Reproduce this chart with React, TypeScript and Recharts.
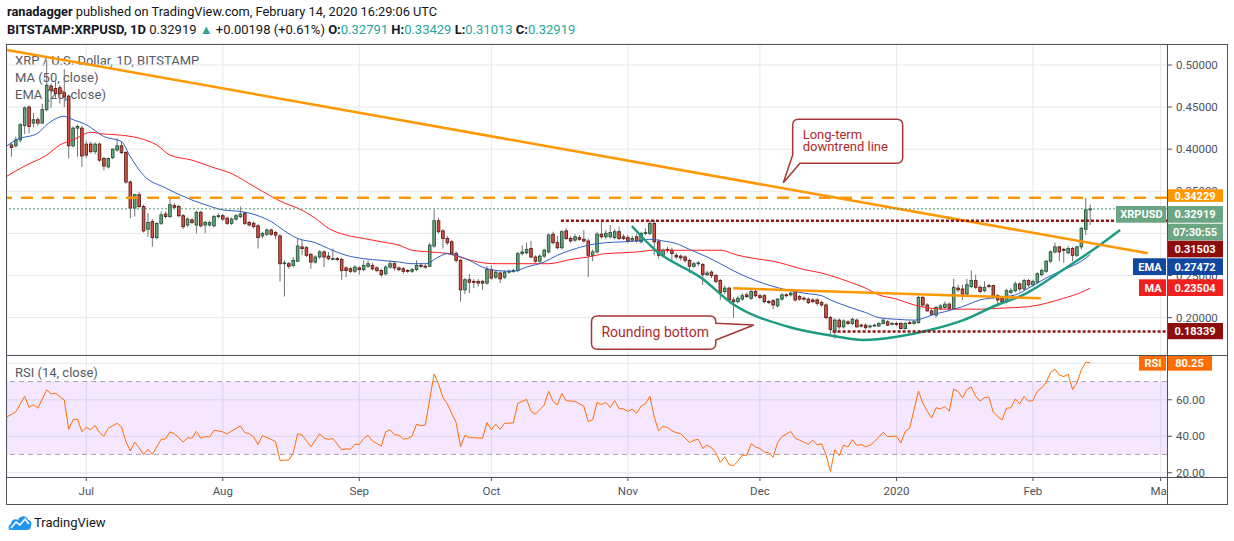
import React from 'react';
import {
  ComposedChart,
  Bar,
  Line,
  XAxis,
  YAxis,
  CartesianGrid,
  ReferenceLine,
  ReferenceArea,
  ReferenceDot,
} from 'recharts';

// day 0 = 14 Jun 2019, one candle per day, [open, high, low, close]
const ohlcJun = [
  [0.405, 0.408, 0.391, 0.402], [0.404, 0.415, 0.402, 0.411], [0.411, 0.431, 0.408, 0.429],
  [0.428, 0.451, 0.418, 0.449], [0.450, 0.452, 0.419, 0.427], [0.431, 0.443, 0.426, 0.435],
  [0.435, 0.438, 0.428, 0.431], [0.431, 0.454, 0.430, 0.447], [0.447, 0.506, 0.445, 0.476],
  [0.475, 0.478, 0.449, 0.470], [0.472, 0.480, 0.460, 0.466], [0.473, 0.476, 0.454, 0.466],
  [0.467, 0.495, 0.450, 0.462], [0.463, 0.465, 0.389, 0.404], [0.404, 0.427, 0.402, 0.425],
  [0.425, 0.429, 0.391, 0.427], [0.425, 0.428, 0.379, 0.392],
];
const ohlcJul = [
  [0.406, 0.410, 0.390, 0.393], [0.406, 0.409, 0.395, 0.397], [0.397, 0.408, 0.394, 0.406],
  [0.406, 0.408, 0.385, 0.387], [0.389, 0.391, 0.375, 0.380], [0.379, 0.390, 0.377, 0.389],
  [0.390, 0.401, 0.388, 0.400], [0.399, 0.413, 0.397, 0.404], [0.404, 0.409, 0.394, 0.396],
  [0.396, 0.398, 0.359, 0.361], [0.361, 0.363, 0.318, 0.330], [0.330, 0.347, 0.320, 0.346],
  [0.346, 0.349, 0.330, 0.332], [0.332, 0.334, 0.301, 0.303], [0.305, 0.324, 0.296, 0.313],
  [0.314, 0.317, 0.284, 0.295], [0.295, 0.313, 0.293, 0.312], [0.312, 0.326, 0.310, 0.322],
  [0.323, 0.326, 0.318, 0.320], [0.320, 0.344, 0.318, 0.334], [0.333, 0.336, 0.329, 0.331],
  [0.332, 0.334, 0.319, 0.321], [0.321, 0.323, 0.305, 0.308], [0.310, 0.319, 0.308, 0.317],
  [0.316, 0.318, 0.311, 0.313], [0.310, 0.327, 0.300, 0.325], [0.325, 0.327, 0.307, 0.309],
  [0.310, 0.315, 0.300, 0.313], [0.310, 0.315, 0.308, 0.313], [0.309, 0.322, 0.307, 0.320],
  [0.320, 0.324, 0.318, 0.321],
];
const ohlcAug = [
  [0.321, 0.323, 0.315, 0.317], [0.318, 0.320, 0.310, 0.312], [0.312, 0.319, 0.310, 0.317],
  [0.317, 0.323, 0.315, 0.321], [0.320, 0.332, 0.318, 0.323], [0.324, 0.326, 0.310, 0.312],
  [0.313, 0.315, 0.308, 0.310], [0.312, 0.314, 0.306, 0.308], [0.309, 0.311, 0.282, 0.295],
  [0.297, 0.302, 0.294, 0.300], [0.299, 0.306, 0.297, 0.304], [0.304, 0.306, 0.297, 0.299],
  [0.301, 0.303, 0.293, 0.298], [0.297, 0.299, 0.243, 0.264], [0.264, 0.268, 0.225, 0.265],
  [0.264, 0.266, 0.258, 0.261], [0.262, 0.272, 0.260, 0.268], [0.267, 0.294, 0.266, 0.285],
  [0.284, 0.292, 0.274, 0.282], [0.283, 0.285, 0.272, 0.274], [0.275, 0.277, 0.258, 0.266],
  [0.266, 0.274, 0.264, 0.272], [0.272, 0.280, 0.270, 0.278], [0.278, 0.280, 0.260, 0.272],
  [0.273, 0.278, 0.268, 0.270], [0.270, 0.282, 0.268, 0.270], [0.270, 0.272, 0.267, 0.269],
  [0.269, 0.271, 0.245, 0.256], [0.259, 0.261, 0.248, 0.256], [0.258, 0.260, 0.253, 0.255],
  [0.255, 0.262, 0.253, 0.260],
];
const ohlcSep = [
  [0.259, 0.261, 0.251, 0.257], [0.257, 0.268, 0.255, 0.262], [0.261, 0.268, 0.259, 0.264],
  [0.262, 0.265, 0.256, 0.258], [0.259, 0.261, 0.254, 0.256], [0.256, 0.258, 0.248, 0.251],
  [0.252, 0.262, 0.250, 0.260], [0.260, 0.268, 0.258, 0.264], [0.264, 0.266, 0.256, 0.259],
  [0.259, 0.261, 0.255, 0.257], [0.258, 0.260, 0.252, 0.255], [0.256, 0.258, 0.253, 0.255],
  [0.255, 0.259, 0.253, 0.257], [0.257, 0.268, 0.255, 0.262], [0.262, 0.265, 0.259, 0.261],
  [0.261, 0.264, 0.258, 0.260], [0.261, 0.289, 0.260, 0.286], [0.285, 0.328, 0.283, 0.315],
  [0.315, 0.318, 0.300, 0.302], [0.303, 0.305, 0.282, 0.294], [0.294, 0.297, 0.286, 0.289],
  [0.290, 0.292, 0.274, 0.276], [0.276, 0.279, 0.265, 0.268], [0.268, 0.270, 0.219, 0.233],
  [0.233, 0.247, 0.228, 0.245], [0.245, 0.252, 0.229, 0.242], [0.243, 0.246, 0.235, 0.242],
  [0.243, 0.246, 0.237, 0.241], [0.243, 0.245, 0.233, 0.241], [0.241, 0.261, 0.239, 0.257],
];
const ohlcOct = [
  [0.257, 0.262, 0.245, 0.247], [0.248, 0.256, 0.246, 0.254], [0.253, 0.255, 0.241, 0.246],
  [0.248, 0.256, 0.246, 0.254], [0.254, 0.257, 0.252, 0.255], [0.255, 0.258, 0.253, 0.256],
  [0.256, 0.278, 0.254, 0.276], [0.276, 0.286, 0.274, 0.278], [0.277, 0.289, 0.275, 0.281],
  [0.282, 0.291, 0.270, 0.272], [0.272, 0.274, 0.265, 0.267], [0.267, 0.275, 0.265, 0.273],
  [0.273, 0.282, 0.271, 0.280], [0.278, 0.300, 0.276, 0.298], [0.299, 0.302, 0.287, 0.289],
  [0.289, 0.297, 0.281, 0.283], [0.283, 0.304, 0.281, 0.302], [0.303, 0.306, 0.292, 0.294],
  [0.294, 0.297, 0.289, 0.291], [0.292, 0.299, 0.290, 0.296], [0.295, 0.298, 0.291, 0.293],
  [0.293, 0.304, 0.289, 0.291], [0.291, 0.294, 0.248, 0.274], [0.274, 0.281, 0.267, 0.278],
  [0.278, 0.302, 0.276, 0.299], [0.299, 0.315, 0.294, 0.296], [0.296, 0.304, 0.293, 0.300],
  [0.296, 0.310, 0.294, 0.301], [0.295, 0.305, 0.293, 0.302], [0.302, 0.308, 0.292, 0.294],
  [0.296, 0.299, 0.292, 0.294],
];
const ohlcNov = [
  [0.295, 0.298, 0.289, 0.291], [0.292, 0.297, 0.290, 0.294], [0.296, 0.299, 0.289, 0.291],
  [0.290, 0.302, 0.288, 0.300], [0.300, 0.306, 0.298, 0.301], [0.300, 0.316, 0.298, 0.312],
  [0.312, 0.316, 0.274, 0.290], [0.290, 0.293, 0.270, 0.274], [0.274, 0.282, 0.272, 0.280],
  [0.281, 0.284, 0.277, 0.280], [0.280, 0.283, 0.268, 0.276], [0.274, 0.277, 0.270, 0.272],
  [0.273, 0.275, 0.268, 0.271], [0.272, 0.274, 0.265, 0.268], [0.268, 0.270, 0.253, 0.261],
  [0.261, 0.266, 0.259, 0.264], [0.264, 0.267, 0.261, 0.265], [0.263, 0.265, 0.239, 0.251],
  [0.251, 0.256, 0.249, 0.253], [0.254, 0.256, 0.247, 0.250], [0.250, 0.252, 0.241, 0.243],
  [0.244, 0.246, 0.221, 0.230], [0.231, 0.238, 0.228, 0.235], [0.235, 0.237, 0.219, 0.221],
  [0.221, 0.224, 0.200, 0.219], [0.219, 0.226, 0.217, 0.223], [0.222, 0.229, 0.220, 0.226],
  [0.227, 0.230, 0.223, 0.225], [0.223, 0.233, 0.221, 0.231], [0.231, 0.233, 0.224, 0.226],
];
const ohlcDec = [
  [0.226, 0.228, 0.222, 0.224], [0.226, 0.228, 0.217, 0.219], [0.219, 0.221, 0.216, 0.218],
  [0.220, 0.222, 0.210, 0.215], [0.214, 0.223, 0.212, 0.222], [0.222, 0.229, 0.220, 0.227],
  [0.227, 0.229, 0.224, 0.226], [0.227, 0.234, 0.225, 0.229], [0.231, 0.233, 0.219, 0.221],
  [0.225, 0.227, 0.220, 0.222], [0.223, 0.225, 0.220, 0.222], [0.222, 0.224, 0.216, 0.218],
  [0.221, 0.223, 0.217, 0.219], [0.221, 0.223, 0.214, 0.217], [0.218, 0.220, 0.213, 0.215],
  [0.215, 0.217, 0.198, 0.200], [0.200, 0.202, 0.180, 0.186], [0.183, 0.199, 0.175, 0.197],
  [0.197, 0.199, 0.186, 0.189], [0.189, 0.198, 0.187, 0.196], [0.195, 0.197, 0.191, 0.193],
  [0.193, 0.200, 0.191, 0.198], [0.197, 0.199, 0.188, 0.189], [0.191, 0.193, 0.188, 0.190],
  [0.191, 0.193, 0.186, 0.188], [0.189, 0.192, 0.187, 0.190], [0.190, 0.193, 0.189, 0.191],
  [0.190, 0.195, 0.189, 0.193], [0.193, 0.199, 0.192, 0.197], [0.195, 0.197, 0.190, 0.191],
  [0.193, 0.195, 0.191, 0.193],
];
const ohlcJan = [
  [0.193, 0.195, 0.190, 0.192], [0.193, 0.195, 0.186, 0.187], [0.187, 0.195, 0.186, 0.193],
  [0.194, 0.196, 0.192, 0.193], [0.193, 0.197, 0.192, 0.195], [0.194, 0.226, 0.193, 0.224],
  [0.224, 0.226, 0.213, 0.215], [0.215, 0.217, 0.207, 0.208], [0.208, 0.211, 0.202, 0.204],
  [0.203, 0.214, 0.200, 0.212], [0.211, 0.216, 0.209, 0.214], [0.212, 0.219, 0.210, 0.216],
  [0.216, 0.218, 0.209, 0.211], [0.211, 0.246, 0.210, 0.236], [0.235, 0.239, 0.230, 0.233],
  [0.234, 0.239, 0.221, 0.228], [0.228, 0.246, 0.226, 0.239], [0.237, 0.256, 0.235, 0.244],
  [0.244, 0.251, 0.234, 0.236], [0.236, 0.238, 0.229, 0.231], [0.232, 0.243, 0.230, 0.236],
  [0.238, 0.240, 0.235, 0.237], [0.238, 0.239, 0.222, 0.225], [0.226, 0.228, 0.213, 0.221],
  [0.223, 0.225, 0.217, 0.219], [0.219, 0.234, 0.217, 0.232], [0.230, 0.235, 0.228, 0.232],
  [0.232, 0.243, 0.230, 0.240], [0.240, 0.242, 0.231, 0.234], [0.234, 0.246, 0.232, 0.244],
  [0.244, 0.246, 0.236, 0.239],
];
const ohlcFeb = [
  [0.239, 0.245, 0.237, 0.243], [0.242, 0.254, 0.240, 0.252], [0.251, 0.258, 0.249, 0.256],
  [0.255, 0.268, 0.253, 0.267], [0.267, 0.280, 0.265, 0.278], [0.278, 0.289, 0.276, 0.284],
  [0.284, 0.285, 0.267, 0.278], [0.281, 0.283, 0.265, 0.280], [0.277, 0.285, 0.275, 0.282],
  [0.282, 0.284, 0.267, 0.274], [0.274, 0.285, 0.272, 0.284], [0.284, 0.308, 0.281, 0.306],
  [0.305, 0.34229, 0.298, 0.328], [0.32791, 0.33429, 0.31013, 0.32919],
];

// [day, value]
const ema20 = [
  [-1, 0.404], [1, 0.411], [6, 0.419], [8, 0.429], [12, 0.439], [14, 0.435], [17, 0.429],
  [21, 0.415], [25, 0.409], [27, 0.391], [30, 0.369], [35, 0.354], [39, 0.344], [44, 0.334],
  [48, 0.328], [52, 0.326], [56, 0.321], [59, 0.314], [62, 0.303], [65, 0.294], [69, 0.289],
  [72, 0.282], [76, 0.274], [80, 0.270], [84, 0.268], [88, 0.266], [91, 0.264], [94, 0.264],
  [97, 0.272], [99, 0.276], [101, 0.274], [104, 0.268], [107, 0.260], [110, 0.256], [114, 0.255],
  [117, 0.260], [121, 0.266], [124, 0.274], [127, 0.280], [131, 0.286], [135, 0.289], [139, 0.290],
  [142, 0.291], [145, 0.293], [148, 0.291], [151, 0.288], [154, 0.281], [158, 0.272], [161, 0.264],
  [165, 0.253], [169, 0.244], [173, 0.237], [176, 0.233], [180, 0.229], [184, 0.226], [186, 0.221],
  [190, 0.213], [194, 0.206], [197, 0.200], [201, 0.198], [205, 0.197], [207, 0.199], [209, 0.203],
  [212, 0.207], [216, 0.213], [220, 0.221], [224, 0.224], [228, 0.227], [231, 0.235], [235, 0.247],
  [239, 0.257], [243, 0.267], [245, 0.27472],
];
const ma50 = [
  [-1, 0.368], [3, 0.380], [8, 0.393], [11, 0.405], [14, 0.411], [18, 0.420], [21, 0.418],
  [24, 0.417], [29, 0.413], [33, 0.405], [36, 0.393], [41, 0.387], [46, 0.378], [50, 0.371],
  [55, 0.356], [59, 0.344], [62, 0.336], [65, 0.330], [69, 0.318], [72, 0.306], [76, 0.298],
  [80, 0.294], [84, 0.290], [88, 0.286], [91, 0.280], [95, 0.278], [99, 0.276], [103, 0.270],
  [106, 0.266], [110, 0.264], [114, 0.264], [118, 0.264], [122, 0.264], [127, 0.269], [131, 0.272],
  [135, 0.276], [139, 0.277], [142, 0.278], [146, 0.280], [150, 0.280], [154, 0.280], [158, 0.280],
  [161, 0.280], [165, 0.274], [169, 0.270], [173, 0.267], [176, 0.263], [180, 0.257], [184, 0.253],
  [186, 0.250], [190, 0.243], [194, 0.235], [197, 0.227], [201, 0.222], [205, 0.215], [209, 0.211],
  [212, 0.210], [216, 0.210], [220, 0.210], [224, 0.211], [228, 0.212], [231, 0.213], [235, 0.217],
  [239, 0.223], [243, 0.230], [245, 0.23504],
];
const rsi14 = [
  [-1, 50.6], [1, 53.4], [3, 61.9], [4, 55.8], [5, 57.3], [6, 55.4], [8, 65.4], [9, 63.2], [10, 63.5],
  [12, 59.9], [13, 43.8], [14, 49.0], [15, 49.4], [16, 42.5], [17, 44.8], [18, 43.6], [19, 45.9],
  [20, 42.0], [21, 40.0], [22, 44.4], [24, 47.1], [25, 45.1], [26, 37.0], [27, 31.9], [28, 36.8],
  [29, 33.7], [30, 30.0], [31, 32.8], [32, 30.0], [34, 38.3], [35, 38.5], [36, 42.4], [37, 41.4],
  [38, 39.2], [39, 36.8], [40, 39.2], [41, 38.9], [42, 42.7], [43, 38.9], [44, 39.8], [45, 39.6],
  [46, 43.3], [47, 42.9], [48, 42.4], [49, 41.2], [50, 42.9], [52, 45.7], [53, 42.0], [54, 41.4],
  [55, 39.6], [56, 35.5], [57, 40.3], [59, 38.3], [60, 37.0], [61, 26.7], [62, 26.9], [63, 26.9],
  [64, 30.9], [65, 41.4], [66, 40.7], [68, 34.2], [70, 41.4], [71, 38.9], [72, 38.3], [73, 38.7],
  [75, 32.6], [76, 33.1], [77, 32.8], [78, 35.5], [79, 35.5], [80, 38.7], [81, 40.5], [82, 37.4],
  [84, 34.6], [85, 42.4], [86, 43.6], [87, 40.9], [88, 40.5], [89, 38.5], [90, 38.7], [91, 40.1],
  [92, 46.6], [93, 45.7], [94, 46.2], [96, 74.2], [97, 68.7], [98, 61.3], [99, 57.7], [101, 47.5],
  [102, 34.2], [103, 40.5], [104, 39.2], [105, 39.2], [107, 38.9], [108, 47.5], [109, 43.6],
  [110, 46.6], [111, 43.8], [112, 47.1], [114, 47.3], [115, 58.0], [117, 60.2], [118, 53.6],
  [119, 52.1], [121, 57.1], [122, 64.7], [123, 59.1], [124, 57.1], [125, 63.5], [126, 59.5],
  [128, 59.1], [130, 56.4], [131, 48.1], [132, 49.0], [133, 58.6], [134, 57.3], [135, 58.6],
  [136, 55.8], [137, 59.5], [138, 55.2], [139, 55.0], [140, 53.7], [141, 54.8], [142, 52.6],
  [143, 56.5], [144, 57.8], [145, 62.0], [146, 50.4], [147, 43.0], [148, 45.4], [149, 44.8],
  [150, 43.0], [151, 41.9], [152, 41.5], [154, 36.5], [155, 37.8], [156, 38.3], [157, 33.3],
  [158, 35.2], [159, 33.7], [160, 30.9], [161, 25.7], [162, 28.7], [163, 24.4], [164, 23.9],
  [165, 26.3], [166, 29.6], [167, 29.6], [168, 35.9], [169, 34.1], [170, 33.3], [171, 31.3],
  [172, 30.9], [173, 28.5], [174, 36.5], [175, 39.8], [177, 42.6], [178, 38.9], [179, 37.8],
  [181, 35.6], [182, 37.8], [183, 35.2], [184, 35.9], [185, 30.0], [186, 20.7], [187, 32.6],
  [188, 29.4], [189, 35.2], [190, 34.1], [191, 38.1], [192, 35.0], [193, 35.4], [194, 34.3],
  [195, 35.0], [196, 37.0], [197, 39.6], [198, 42.2], [199, 39.8], [201, 40.0], [202, 36.3],
  [203, 42.6], [204, 44.4], [206, 64.8], [207, 58.1], [208, 53.7], [209, 50.0], [210, 55.6],
  [211, 55.0], [212, 56.3], [213, 53.7], [214, 65.9], [215, 64.6], [216, 61.1], [217, 65.6],
  [218, 67.0], [219, 61.9], [220, 59.3], [221, 61.1], [222, 61.5], [223, 53.1], [224, 50.9],
  [225, 48.9], [226, 55.4], [227, 55.6], [228, 60.4], [229, 57.8], [230, 61.9], [231, 59.1],
  [232, 59.6], [233, 64.7], [234, 66.5], [235, 69.3], [236, 75.0], [237, 76.8], [238, 73.5],
  [239, 72.7], [240, 74.0], [241, 65.6], [242, 69.3], [243, 76.4], [244, 80.6], [245, 80.25],
];
// hand-drawn "rounding bottom" arc, [day, price]
const roundingBottom = [
  [140.9, 0.3088], [146.2, 0.2803], [156.8, 0.2467], [163.6, 0.217], [176.4, 0.1892],
  [186.3, 0.1785], [193.5, 0.1734], [201.1, 0.1773], [208.6, 0.1853], [216.2, 0.1971],
  [223.8, 0.215], [229.7, 0.2268], [238.8, 0.2565], [247.2, 0.2862], [251.8, 0.304],
];

const monthTicks = [17, 48, 79, 109, 140, 170, 201, 232, 261];
const monthLabels = ['Jul', 'Aug', 'Sep', 'Oct', 'Nov', 'Dec', '2020', 'Feb', 'Mar'];
const priceTicks = [0.2, 0.25, 0.3, 0.35, 0.4, 0.45, 0.5];
const rsiTicks = [20, 40, 60, 80];
// axis labels that sit fully under a value tag in the original
const hiddenPriceLabels = [0.3];
const hiddenRsiLabels = [80];

const candles = [ohlcJun, ohlcJul, ohlcAug, ohlcSep, ohlcOct, ohlcNov, ohlcDec, ohlcJan, ohlcFeb]
  .flat()
  .map((c, i) => ({ day: i, open: c[0], high: c[1], low: c[2], close: c[3] }));
const toPts = (arr: number[][]) => arr.map(([day, v]) => ({ day, v }));

const X_DOMAIN: [number, number] = [-1.011, 262.45];
const PRICE_DOMAIN: [number, number] = [0.1556, 0.5249];
const RSI_DOMAIN: [number, number] = [17.64, 84.55];
const FONT = 'Roboto, "Noto Sans", sans-serif';
const AXIS_TEXT = '#4c525e';
const GRID = '#e6e8ea';

const Candle = (props: any) => {
  const { x, y, width, height, payload } = props;
  if (!payload || height == null) return null;
  const { open, high, low, close } = payload;
  const top0 = Math.min(y, y + height);
  const h = Math.abs(height);
  const cx = x + width / 2;
  const span = high - low || 1e-9;
  const py = (v: number) => top0 + ((high - v) / span) * h;
  const up = close >= open;
  const bt = py(Math.max(open, close));
  const bb = py(Math.min(open, close));
  return (
    <g>
      <line x1={cx} x2={cx} y1={top0} y2={top0 + h} stroke="#737375" strokeWidth={1} />
      <rect
        x={cx - 1.3}
        y={bt}
        width={2.6}
        height={Math.max(bb - bt, 0.8)}
        fill={up ? '#6ba583' : '#d75442'}
        stroke={up ? '#225437' : '#5b1a13'}
        strokeWidth={0.9}
      />
    </g>
  );
};

type BadgeSpec = {
  text: string;
  fill: string;
  dy0: number;
  dy1: number;
  w?: number;
  tag?: string;
  tagW?: number;
  sub?: string;
};

// price/value tag on the right axis, drawn from the reference line's position
const Badge = (props: any) => {
  const { viewBox, spec } = props as { viewBox: any; spec: BadgeSpec };
  if (!viewBox) return null;
  const left = viewBox.x + viewBox.width;
  const top = viewBox.y + spec.dy0;
  const h = spec.dy1 - spec.dy0;
  const w = spec.w ?? 56;
  const tagW = spec.tagW ?? 30;
  const txt = { fill: '#fff', fontSize: 11, fontWeight: 700, fontFamily: FONT, textAnchor: 'middle' as const };
  return (
    <g>
      {spec.tag && (
        <>
          <rect x={left - tagW} y={top} width={tagW - 1} height={h} fill={spec.fill} />
          <text x={left - tagW / 2} y={top + h / 2} dy="0.36em" {...txt}>
            {spec.tag}
          </text>
        </>
      )}
      <rect x={left} y={top} width={w} height={h} fill={spec.fill} />
      <text x={left + w / 2} y={top + h / 2} dy="0.36em" {...txt}>
        {spec.text}
      </text>
      {spec.sub && (
        <>
          <rect x={left} y={top + h + 1} width={w} height={h} fill={spec.fill} />
          <text x={left + w / 2} y={top + h * 1.5 + 1} dy="0.36em" {...txt}>
            {spec.sub}
          </text>
        </>
      )}
    </g>
  );
};

const CALLOUT_STROKE = '#a93535';
const CALLOUT_TEXT = '#ad2b2b';

const TrendCallout = (props: any) => {
  const { cx, cy } = props;
  if (cx == null) return null;
  const x0 = cx + 9.4, x1 = cx + 119.4, y0 = cy - 63.4, y1 = cy - 19.4, r = 6;
  const d =
    `M${x0 + r},${y0} H${x1 - r} Q${x1},${y0} ${x1},${y0 + r} ` +
    `V${y1 - r} Q${x1},${y1} ${x1 - r},${y1} H${cx + 16.7} L${cx},${cy} L${x0},${cy - 27.7} V${y0 + r} Q${x0},${y0} ${x0 + r},${y0} Z`;
  return (
    <g>
      <path d={d} fill="#fff" stroke={CALLOUT_STROKE} strokeWidth={1.5} />
      <text x={x0 + 10} y={y0 + 20} fill={CALLOUT_TEXT} fontSize={13} fontFamily={FONT}>Long-term</text>
      <text x={x0 + 10} y={y0 + 31.4} fill={CALLOUT_TEXT} fontSize={13} fontFamily={FONT}>downtrend line</text>
    </g>
  );
};

const BottomCallout = (props: any) => {
  const { cx, cy } = props;
  if (cx == null) return null;
  const x0 = cx - 162.3, x1 = cx - 38, y0 = cy - 9, y1 = cy + 24.3, r = 6;
  const d =
    `M${x0 + r},${y0} H${x1 - r} Q${x1},${y0} ${x1},${y0 + r} V${cy - 1.7} L${cx},${cy} L${x1},${cy + 15} ` +
    `V${y1 - r} Q${x1},${y1} ${x1 - r},${y1} H${x0 + r} Q${x0},${y1} ${x0},${y1 - r} V${y0 + r} Q${x0},${y0} ${x0 + r},${y0} Z`;
  return (
    <g>
      <path d={d} fill="#fff" stroke={CALLOUT_STROKE} strokeWidth={1.5} />
      <text x={x0 + 10} y={cy + 11.5} fill={CALLOUT_TEXT} fontSize={14} fontFamily={FONT}>Rounding bottom</text>
    </g>
  );
};

const TEAL = '#26a69a';
const legendText: React.CSSProperties = {
  position: 'absolute',
  left: 15,
  fontSize: 13,
  color: '#555a64',
  whiteSpace: 'nowrap',
  lineHeight: '16px',
};
const layer: React.CSSProperties = { position: 'absolute', left: 0 };

export default function App() {
  const tickStyle = { fill: AXIS_TEXT, fontSize: 11.5, fontFamily: FONT };
  const hLine = (top: number): React.CSSProperties => ({
    position: 'absolute', left: 6, top, width: 1222, height: 1, background: '#50535e',
  });
  const vLine = (left: number): React.CSSProperties => ({
    position: 'absolute', left, top: 44, width: 1, height: 461, background: '#50535e',
  });
  // tag layer: same plot box as the panes (plot right edge 1167), no axes drawn
  const badgeMargin = { right: 67, left: 7 };
  return (
    <div
      style={{
        position: 'absolute', left: 0, top: 0, width: 1234, height: 541,
        background: '#fff', fontFamily: FONT, overflow: 'hidden', color: '#131722',
      }}
    >
      <div style={{ position: 'absolute', left: 7, top: 3, fontSize: 12.8, lineHeight: '18px', whiteSpace: 'nowrap' }}>
        <b>ranadagger</b> published on TradingView.com, February 14, 2020 16:29:06 UTC
      </div>
      <div style={{ position: 'absolute', left: 7, top: 21, fontSize: 13, lineHeight: '18px', whiteSpace: 'nowrap' }}>
        <b>BITSTAMP:XRPUSD, 1D</b> 0.32919 <span style={{ color: TEAL }}>▲</span> +0.00198 (+0.61%){' '}
        <b>O:</b><span style={{ color: TEAL }}>0.32791</span> <b>H:</b><span style={{ color: TEAL }}>0.33429</span>{' '}
        <b>L:</b><span style={{ color: TEAL }}>0.31013</span> <b>C:</b><span style={{ color: TEAL }}>0.32919</span>
      </div>

      <div style={{ ...legendText, top: 53 }}>XRP / U.S. Dollar, 1D, BITSTAMP</div>
      <div style={{ ...legendText, top: 70 }}>MA (50, close)</div>
      <div style={{ ...legendText, top: 87 }}>EMA (20, close)</div>
      <div style={{ ...legendText, top: 365 }}>RSI (14, close)</div>

      {/* price pane */}
      <div style={{ ...layer, top: 0 }}>
        <ComposedChart width={1234} height={356} data={candles} margin={{ top: 44, right: 7, bottom: 1, left: 7 }}>
          <CartesianGrid stroke={GRID} strokeWidth={1} />
          <XAxis type="number" dataKey="day" domain={X_DOMAIN} allowDataOverflow ticks={monthTicks} hide />
          <YAxis
            orientation="right"
            width={60}
            domain={PRICE_DOMAIN}
            allowDataOverflow
            ticks={priceTicks}
            interval={0}
            tickFormatter={(v: number) => (hiddenPriceLabels.includes(v) ? '' : v.toFixed(5))}
            tick={tickStyle}
            tickSize={5}
            tickMargin={4}
            tickLine={{ stroke: AXIS_TEXT }}
            axisLine={false}
          />
          <Line data={toPts(ma50)} dataKey="v" type="monotone" stroke="#ff1f1f" strokeWidth={1} dot={false} isAnimationActive={false} />
          <Line data={toPts(ema20)} dataKey="v" type="monotone" stroke="#2f5fc4" strokeWidth={1} dot={false} isAnimationActive={false} />
          <Bar dataKey={(d: any) => [d.low, d.high]} shape={<Candle />} isAnimationActive={false} />
          <Line
            data={toPts(roundingBottom)}
            dataKey="v"
            type="monotone"
            stroke="#1e9c82"
            strokeWidth={2.5}
            dot={false}
            isAnimationActive={false}
          />
          <ReferenceLine
            segment={[{ x: -1.0, y: 0.5178 }, { x: 258.1, y: 0.2764 }]}
            stroke="#ff9800"
            strokeWidth={2.5}
            ifOverflow="visible"
          />
          <ReferenceLine segment={[{ x: 163.9, y: 0.2348 }, { x: 233.8, y: 0.2229 }]} stroke="#ff9800" strokeWidth={2.5} />
          <ReferenceLine y={0.34229} stroke="#ff9800" strokeWidth={2.5} strokeDasharray="12 9" />
          <ReferenceLine y={0.32919} stroke="#4d9a6e" strokeWidth={1} strokeDasharray="2 2" />
          <ReferenceLine
            segment={[{ x: 124.8, y: 0.31503 }, { x: 262.45, y: 0.31503 }]}
            stroke="#8e1414"
            strokeWidth={2.5}
            strokeDasharray="3 2"
          />
          <ReferenceLine
            segment={[{ x: 186.5, y: 0.18339 }, { x: 262.45, y: 0.18339 }]}
            stroke="#8e1414"
            strokeWidth={2.5}
            strokeDasharray="3 2"
          />
          <ReferenceDot x={175.3} y={0.3602} r={0} ifOverflow="visible" shape={<TrendCallout />} />
          <ReferenceDot x={168.6} y={0.1912} r={0} ifOverflow="visible" shape={<BottomCallout />} />
        </ComposedChart>
      </div>

      {/* RSI pane */}
      <div style={{ ...layer, top: 355 }}>
        <ComposedChart width={1234} height={149} data={toPts(rsi14)} margin={{ top: 0, right: 7, bottom: 0, left: 7 }}>
          <ReferenceArea y1={30} y2={70} fill="#9915ff" fillOpacity={0.1} stroke="none" />
          <CartesianGrid stroke={GRID} strokeWidth={1} />
          <XAxis
            type="number"
            dataKey="day"
            domain={X_DOMAIN}
            allowDataOverflow
            ticks={monthTicks}
            interval={0}
            height={27}
            tickFormatter={(v: number) => monthLabels[monthTicks.indexOf(v)] ?? ''}
            tick={tickStyle}
            tickSize={4}
            tickMargin={6}
            tickLine={{ stroke: AXIS_TEXT }}
            axisLine={false}
          />
          <YAxis
            orientation="right"
            width={60}
            domain={RSI_DOMAIN}
            allowDataOverflow
            ticks={rsiTicks}
            interval={0}
            tickFormatter={(v: number) => (hiddenRsiLabels.includes(v) ? '' : v.toFixed(2))}
            tick={tickStyle}
            tickSize={5}
            tickMargin={4}
            tickLine={{ stroke: AXIS_TEXT }}
            axisLine={false}
          />
          <ReferenceLine y={70} stroke="#a9a3b0" strokeDasharray="5 4" />
          <ReferenceLine y={30} stroke="#a9a3b0" strokeDasharray="5 4" />
          <Line dataKey="v" type="linear" stroke="#ff6d00" strokeWidth={1} dot={false} isAnimationActive={false} />
        </ComposedChart>
      </div>

      {/* right-axis tags, on top of the axis labels */}
      <div style={{ ...layer, top: 0 }}>
        <ComposedChart width={1234} height={356} data={candles} margin={{ top: 44, bottom: 1, ...badgeMargin }}>
          <XAxis type="number" dataKey="day" domain={X_DOMAIN} allowDataOverflow hide />
          <YAxis domain={PRICE_DOMAIN} allowDataOverflow hide />
          <ReferenceLine
            y={0.34229}
            stroke="none"
            label={<Badge spec={{ text: '0.34229', fill: '#ff9800', dy0: -8.5, dy1: 4.1 }} />}
          />
          <ReferenceLine
            y={0.32919}
            stroke="none"
            label={
              <Badge
                spec={{ text: '0.32919', fill: '#6ba583', dy0: -2.8, dy1: 13.9, tag: 'XRPUSD', tagW: 51, sub: '07:30:55' }}
              />
            }
          />
          <ReferenceLine
            y={0.31503}
            stroke="none"
            label={<Badge spec={{ text: '0.31503', fill: '#8e0c0c', dy0: 20, dy1: 36.6 }} />}
          />
          <ReferenceLine
            y={0.27472}
            stroke="none"
            label={<Badge spec={{ text: '0.27472', fill: '#0f47a1', dy0: 3.6, dy1: 20.3, tag: 'EMA', tagW: 34 }} />}
          />
          <ReferenceLine
            y={0.23504}
            stroke="none"
            label={<Badge spec={{ text: '0.23504', fill: '#f21f1f', dy0: -8.8, dy1: 7.9, tag: 'MA', tagW: 28 }} />}
          />
          <ReferenceLine
            y={0.18339}
            stroke="none"
            label={<Badge spec={{ text: '0.18339', fill: '#8e0c0c', dy0: -8.6, dy1: 7.6 }} />}
          />
        </ComposedChart>
      </div>
      <div style={{ ...layer, top: 355 }}>
        <ComposedChart width={1234} height={149} data={toPts(rsi14)} margin={{ top: 0, bottom: 27, ...badgeMargin }}>
          <XAxis type="number" dataKey="day" domain={X_DOMAIN} allowDataOverflow hide />
          <YAxis domain={RSI_DOMAIN} allowDataOverflow hide />
          <ReferenceLine
            y={80.25}
            stroke="none"
            label={<Badge spec={{ text: '80.25', fill: '#ff6d00', w: 45, dy0: -7.9, dy1: 7.8, tag: 'RSI', tagW: 28 }} />}
          />
        </ComposedChart>
      </div>

      {/* frame */}
      <div style={{ position: 'absolute', left: 1168, top: 478, width: 59, height: 26, background: '#fff' }} />
      <div style={hLine(44)} />
      <div style={hLine(355)} />
      <div style={hLine(477)} />
      <div style={hLine(504)} />
      <div style={vLine(6)} />
      <div style={vLine(1167)} />
      <div style={vLine(1227)} />

      <div style={{ position: 'absolute', left: 8, top: 513, display: 'flex', alignItems: 'center' }}>
        <svg width={24} height={18} viewBox="0 0 24 18">
          <path d="M2 17 C0 17 0 12 3 11 C3 7 7 5 10 7 C12 2 19 2 20 7 C23 7 24 10 23 13 C23 16 21 17 19 17 Z" fill="#2196f3" />
          <path d="M3 15 L8 9 L12 12 L17 6 L21 11" fill="none" stroke="#fff" strokeWidth={1.6} />
        </svg>
        <span style={{ marginLeft: 2, fontSize: 13, color: '#131722' }}>TradingView</span>
      </div>
    </div>
  );
}
